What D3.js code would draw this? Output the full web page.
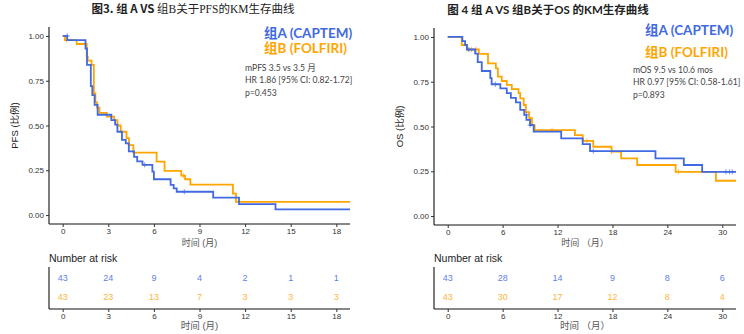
<!DOCTYPE html>
<html><head><meta charset="utf-8">
<script src="https://cdn.jsdelivr.net/npm/d3@7"></script>
<style>body{margin:0;background:#fff}svg{display:block}</style>
</head><body>
<script>
// ---------------- DATA ----------------
const pfsTicks = [0, 3, 6, 9, 12, 15, 18];
const osTicks = [0, 6, 12, 18, 24, 30];
const yTicks = [0, 0.25, 0.5, 0.75, 1.0];

// PFS group A (CAPTEM) step changes [time, survival]
const pfsA = [[0,1],[0.3,0.977],[1.5,0.93],[1.6,0.838],[1.85,0.72],[1.95,0.67],[2.1,0.615],[2.3,0.56],[3.2,0.53],[3.45,0.505],[3.6,0.465],[3.9,0.42],[4.15,0.40],[4.35,0.355],[4.7,0.325],[4.9,0.30],[5.25,0.28],[5.9,0.242],[6.0,0.20],[7.1,0.168],[7.3,0.149],[7.5,0.13],[9.9,0.097],[11.6,0.061],[14.0,0.032]];
const pfsAcens = [[0.3,1.0],[5.4,0.28],[8.0,0.13]];
// PFS group B (FOLFIRI)
const pfsB = [[0,1],[0.15,0.977],[0.92,0.955],[1.58,0.885],[1.65,0.862],[1.9,0.838],[2.05,0.68],[2.15,0.63],[2.25,0.60],[2.42,0.57],[2.9,0.55],[3.38,0.53],[3.6,0.50],[3.82,0.465],[4.2,0.43],[4.36,0.39],[4.65,0.348],[6.18,0.298],[6.7,0.247],[7.8,0.22],[8.05,0.20],[8.4,0.17],[11.2,0.12],[11.4,0.074]];
const pfsBcens = [[0.25,0.977],[7.95,0.22]];
// OS group A
const osA = [[0,1],[1.6,0.977],[1.9,0.955],[2.1,0.93],[3.0,0.907],[3.28,0.86],[3.72,0.81],[4.65,0.77],[4.8,0.736],[5.75,0.713],[6.45,0.686],[6.9,0.66],[7.45,0.635],[7.92,0.593],[8.36,0.565],[8.6,0.537],[8.99,0.508],[9.39,0.471],[12.4,0.434],[14.75,0.402],[15.55,0.363],[22.7,0.322],[25.8,0.285],[27.8,0.247]];
const osAcens = [[2.3,0.93],[5.2,0.736],[8.6,0.565],[9.0,0.508],[15.9,0.363],[30.4,0.247],[30.8,0.247],[31.1,0.247]];
// OS group B
const osB = [[0,1],[1.53,0.955],[2.08,0.93],[3.4,0.905],[4.4,0.853],[5.26,0.825],[5.48,0.778],[5.9,0.754],[6.45,0.732],[7.0,0.709],[7.74,0.686],[7.92,0.657],[8.3,0.62],[8.54,0.58],[8.9,0.546],[9.2,0.508],[9.5,0.48],[13.9,0.452],[14.75,0.42],[15.9,0.387],[17.9,0.36],[18.95,0.322],[20.7,0.285],[24.9,0.247],[29.3,0.197]];
const osBcens = [[2.6,0.93],[3.1,0.93],[11.4,0.48],[15.2,0.42],[17.9,0.36],[25.2,0.247]];

const pfsRiskA = [43, 24, 9, 4, 2, 1, 1];
const pfsRiskB = [43, 23, 13, 7, 3, 3, 3];
const osRiskA = [43, 28, 14, 9, 8, 6];
const osRiskB = [43, 30, 17, 12, 8, 4];

const legendA = "组A (CAPTEM)";
const legendB = "组B (FOLFIRI)";

// ---------------- DRAW ----------------
const BLUE = "#4169E1", ORANGE = "#FFA500";
const BLUE_T = "#5f80ea", ORANGE_T = "#ffb53a";
const svg = d3.select("body").append("svg").attr("width", 744).attr("height", 334);
const AX = "Liberation Sans, Arial, sans-serif";
const CJK = "Liberation Sans, Noto Sans CJK SC, sans-serif";

function panel(o) {
  const x = d3.scaleLinear().domain(o.xdom).range(o.xr);
  const y = d3.scaleLinear().domain([-0.05, 1.05]).range(o.yr);
  const g = svg.append("g");
  const ya = g.append("g").attr("transform", `translate(${o.xr[0]},0)`)
    .call(d3.axisLeft(y).tickValues(yTicks).tickFormat(d3.format(".2f")).tickSize(3).tickPadding(2));
  const xa = g.append("g").attr("transform", `translate(0,${o.yr[0]})`)
    .call(d3.axisBottom(x).tickValues(o.ticks).tickSize(3).tickPadding(1));
  [ya, xa].forEach(a => {
    a.select(".domain").attr("stroke", "#111").attr("stroke-width", 1.1);
    a.selectAll(".tick line").attr("stroke", "#333");
    a.selectAll("text").attr("font-family", AX).attr("font-size", 8).attr("fill", "#333");
  });
  ya.select(".domain").attr("d", `M0,${o.yr[0]}V${o.yr[1]}`);
  xa.select(".domain").attr("d", `M${o.xr[0]},0H${o.xr[1]}`);

  const line = d3.line().x(d => x(d[0])).y(d => y(d[1])).curve(d3.curveStepAfter);
  [[o.B, ORANGE, o.Bc], [o.A, BLUE, o.Ac]].forEach(([pts, col, cens]) => {
    const full = pts.concat([[o.xdom[1], pts[pts.length - 1][1]]]);
    g.append("path").attr("d", line(full)).attr("fill", "none").attr("stroke", col).attr("stroke-width", 1.8);
    g.selectAll(null).data(cens).enter().append("path")
      .attr("d", d => `M${x(d[0]) - 2.5},${y(d[1])}h5M${x(d[0])},${y(d[1]) - 2.5}v5`)
      .attr("stroke", col).attr("stroke-width", 0.9).attr("opacity", 0.8);
  });
  g.append("text").attr("transform", `translate(${o.ylabX},${(o.yr[0] + o.yr[1]) / 2}) rotate(-90)`)
    .attr("text-anchor", "middle").attr("font-family", CJK).attr("font-size", 9.5).attr("fill", "#222")
    .text(o.ylab);
  g.append("text").attr("x", (o.xr[0] + o.xr[1]) / 2).attr("y", 246).attr("text-anchor", "middle")
    .attr("font-family", CJK).attr("font-size", 9).attr("fill", "#555").text(o.xlab);
  g.append("text").attr("x", o.legX).attr("y", o.legY[0]).attr("font-family", "Lato, Noto Sans CJK SC, sans-serif")
    .attr("font-weight", "bold").attr("font-size", 13.5).attr("fill", BLUE).text(legendA);
  g.append("text").attr("x", o.legX).attr("y", o.legY[1]).attr("font-family", "Lato, Noto Sans CJK SC, sans-serif")
    .attr("font-weight", "bold").attr("font-size", 13.5).attr("fill", ORANGE).text(legendB);
  o.note.forEach((t, i) => g.append("text").attr("x", o.noteX).attr("y", o.noteY + i * 12.3)
    .attr("font-family", "Lato, Noto Sans CJK SC, sans-serif").attr("font-size", 8.6).attr("fill", "#444").text(t));

  // risk table
  g.append("text").attr("x", o.xr[0]).attr("y", 262).attr("font-family", AX).attr("font-size", 10.5)
    .attr("fill", "#222").text("Number at risk");
  const ra = g.append("g").attr("transform", "translate(0,309)")
    .call(d3.axisBottom(x).tickValues(o.ticks).tickSize(3).tickPadding(1));
  ra.select(".domain").attr("d", `M${o.xr[0]},0H${o.xr[1]}`).attr("stroke", "#111").attr("stroke-width", 1.1);
  ra.selectAll(".tick line").attr("stroke", "#333");
  ra.selectAll("text").attr("font-family", AX).attr("font-size", 8).attr("fill", "#333");
  g.append("line").attr("x1", o.xr[0]).attr("x2", o.xr[0]).attr("y1", 267).attr("y2", 309)
    .attr("stroke", "#111").attr("stroke-width", 1.1);
  [[o.rA, BLUE_T, 281], [o.rB, ORANGE_T, 300]].forEach(([vals, col, yy]) => {
    g.selectAll(null).data(vals).enter().append("text")
      .attr("x", (d, i) => x(o.ticks[i])).attr("y", yy).attr("text-anchor", "middle")
      .attr("font-family", AX).attr("font-size", 9).attr("fill", col).text(d => d);
  });
  g.append("text").attr("x", (o.xr[0] + o.xr[1]) / 2).attr("y", 329).attr("text-anchor", "middle")
    .attr("font-family", CJK).attr("font-size", 9.5).attr("fill", "#555").text(o.xlab);
}

panel({xdom: [-0.9, 18.9], xr: [49, 350], yr: [224, 27], ticks: pfsTicks,
  A: pfsA, B: pfsB, Ac: pfsAcens, Bc: pfsBcens, ylab: "PFS (比例)", ylabX: 18, xlab: "时间 (月)",
  legX: 264, legY: [38, 53], note: ["mPFS 3.5 vs 3.5 月", "HR 1.86 [95% CI: 0.82-1.72]", "p=0.453"], noteX: 245, noteY: 71,
  rA: pfsRiskA, rB: pfsRiskB});
panel({xdom: [-1.5, 31.5], xr: [434, 736], yr: [225, 28], ticks: osTicks,
  A: osA, B: osB, Ac: osAcens, Bc: osBcens, ylab: "OS (比例)", ylabX: 403, xlab: "时间 （月）",
  legX: 645, legY: [35, 57], note: ["mOS 9.5 vs 10.6 mos", "HR 0.97 [95% CI: 0.58-1.61]", "p=0.893"], noteX: 633, noteY: 73,
  rA: osRiskA, rB: osRiskB});

// titles
const t1 = svg.append("text").attr("x", 193).attr("y", 13).attr("text-anchor", "middle").attr("font-size", 11.5).attr("fill", "#222")
  .attr("font-family", "Noto Sans CJK SC, sans-serif");
t1.append("tspan").attr("font-weight", "bold").text("图3. 组 A VS ");
t1.append("tspan").attr("font-family", "Liberation Serif, Noto Sans CJK SC, serif").text("组B关于PFS的KM生存曲线");
svg.append("text").attr("x", 548).attr("y", 14).attr("text-anchor", "middle").attr("font-size", 11.5).attr("fill", "#222")
  .attr("font-family", "Lato, Noto Sans CJK SC, sans-serif").attr("font-weight", "bold")
  .text("图 4 组 A VS 组B关于OS 的KM生存曲线");
</script>
</body></html>
